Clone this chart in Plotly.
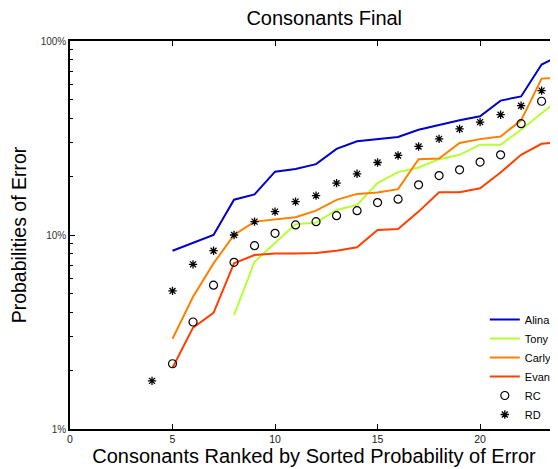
import plotly.graph_objects as go

x_line = list(range(5, 25))
alina = [8.30, 9.09, 10.0, 15.2, 16.2, 21.2, 21.9, 23.2, 27.8, 30.4, 31.2, 32.0, 34.9, 37.0, 39.0, 40.9, 49.3, 51.8, 75.6, 85.1]
x_tony = list(range(8, 25))
tony = [3.86, 7.28, 9.1, 11.36, 11.58, 13.46, 14.29, 18.5, 21.1, 22.3, 24.6, 25.9, 29.2, 29.2, 34.9, 42.6, 51.6]
carly = [2.92, 4.80, 7.14, 10.0, 11.72, 12.05, 12.35, 13.35, 15.17, 16.29, 16.55, 17.23, 24.6, 24.8, 29.8, 31.2, 32.2, 39.0, 64.0, 64.8]
evan = [2.07, 3.33, 3.97, 7.14, 7.88, 8.04, 8.04, 8.07, 8.30, 8.64, 10.6, 10.74, 13.2, 16.6, 16.6, 17.4, 21.0, 25.9, 29.5, 30.2]
x_rc = list(range(5, 24))
rc = [2.17, 3.56, 5.51, 7.23, 8.81, 10.2, 11.27, 11.72, 12.58, 13.35, 14.69, 15.29, 18.13, 20.25, 21.68, 23.75, 25.9, 37.5, 48.9]
x_rd = list(range(4, 24))
rd = [1.77, 5.15, 7.06, 8.30, 10.0, 11.72, 13.2, 14.86, 15.96, 18.5, 20.67, 23.64, 25.7, 28.6, 31.3, 35.2, 38.2, 41.7, 46.4, 55.5]

x_ticks = [0, 5, 10, 15, 20]
y_ticks = [1, 10, 100]
y_tick_text = ["1%", "10%", "100%"]
y_minor = [m * d for d in (1, 10) for m in range(2, 10)]

FONT = "Liberation Sans, Arial, sans-serif"

fig = go.Figure()
fig.add_trace(go.Scatter(x=x_line, y=alina, mode="lines", name="Alina", line=dict(color="#0000cc", width=2)))
fig.add_trace(go.Scatter(x=x_tony, y=tony, mode="lines", name="Tony", line=dict(color="#b4ff32", width=2)))
fig.add_trace(go.Scatter(x=x_line, y=carly, mode="lines", name="Carly", line=dict(color="#ff8000", width=2)))
fig.add_trace(go.Scatter(x=x_line, y=evan, mode="lines", name="Evan", line=dict(color="#ff4000", width=2)))
fig.add_trace(go.Scatter(x=x_rc, y=rc, mode="markers", name="RC",
                         marker=dict(symbol="circle-open", size=8, color="black", line=dict(width=1.2))))
fig.add_trace(go.Scatter(x=x_rd, y=rd, mode="markers", name="RD",
                         marker=dict(symbol="asterisk-open", size=7, color="black", line=dict(width=1.3, color="black"))))

fig.update_layout(
    width=550, height=461,
    margin=dict(l=62, r=0, t=33, b=40),
    plot_bgcolor="white", paper_bgcolor="white",
    font=dict(family=FONT, color="black"),
    title=dict(text="Consonants Final", x=0.575, xanchor="center", y=0.9935, yanchor="top",
               font=dict(size=20, color="black")),
    xaxis=dict(range=[0, 23.8], tickvals=x_ticks, ticks="inside", ticklen=5, tickcolor="black",
               showline=True, linecolor="black", linewidth=1.5, mirror="ticks", showgrid=False, zeroline=False,
               tickfont=dict(size=10.5, color="#222"),
               title=dict(text="Consonants Ranked by Sorted Probability of Error", font=dict(size=20), standoff=2)),
    yaxis=dict(type="log", range=[0, 2], tickvals=y_ticks, ticktext=y_tick_text, ticks="inside", ticklen=5,
               tickcolor="black", showline=True, linecolor="black", linewidth=1.5, mirror=False, showgrid=False,
               zeroline=False, tickfont=dict(size=10, color="#333"),
               minor=dict(tickvals=y_minor, ticks="inside", ticklen=3, tickcolor="black", showgrid=False),
               title=dict(text="Probabilities of Error", font=dict(size=19.5), standoff=15)),
    legend=dict(x=0.850, y=0.0, xanchor="left", yanchor="bottom", bgcolor="rgba(0,0,0,0)",
                font=dict(size=11, color="black"), itemwidth=30, tracegroupgap=0),
    showlegend=True,
)

fig.write_html("out.html")
